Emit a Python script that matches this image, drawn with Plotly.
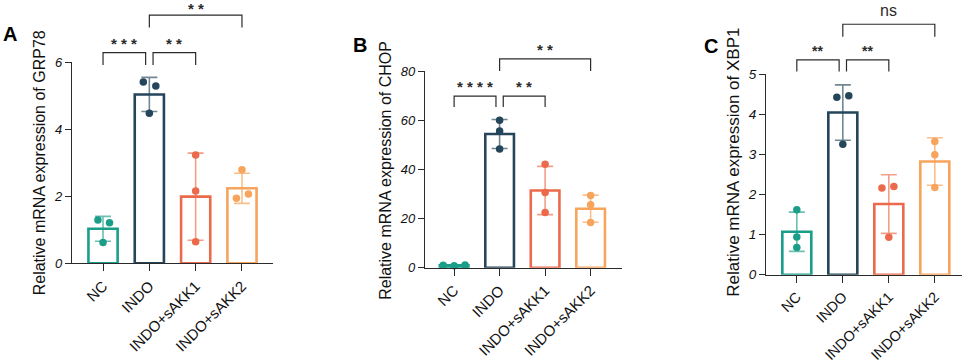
import plotly.graph_objects as go

# ---------------- data ----------------
CATEGORIES = ["NC", "INDO", "INDO+sAKK1", "INDO+sAKK2"]

A_MEAN = [1.03, 5.04, 1.99, 2.24]
A_SD = [0.37, 0.51, 1.30, 0.45]
A_POINTS = [[1.29, 1.21, 0.62], [5.41, 5.29, 4.48], [3.23, 2.16, 0.64], [2.79, 1.94, 2.07]]
A_SIG = ["* * *", "* *", "* *"]          # NC-INDO, INDO-sAKK1, INDO-sAKK2

B_MEAN = [1.0, 54.4, 31.4, 24.0]
B_SD = [0.2, 5.9, 9.8, 5.5]
B_POINTS = [[1.0, 0.8, 1.1], [60.0, 55.6, 48.3], [42.1, 30.6, 22.5], [29.4, 25.6, 18.4]]
B_SIG = ["* * * *", "* *", "* *"]

C_MEAN = [1.07, 4.04, 1.76, 2.82]
C_SD = [0.49, 0.69, 0.73, 0.59]
C_POINTS = [[1.62, 0.94, 0.68], [4.42, 4.46, 3.25], [2.16, 2.20, 0.93], [3.32, 2.99, 2.17]]
C_SIG = ["**", "**", "ns"]

Y_TICKS_A = [0, 2, 4, 6]
Y_TICKS_B = [0, 20, 40, 60, 80]
Y_TICKS_C = [0, 1, 2, 3, 4, 5]

TITLES = ["Relative mRNA expression of GRP78",
          "Relative mRNA expression of CHOP",
          "Relative mRNA expression of XBP1"]
LETTERS = ["A", "B", "C"]

# ---------------- style / layout ----------------
W, H = 969, 363
FONT = "Arial, Liberation Sans, sans-serif"
COLORS = ["#1b9e89", "#25465a", "#ec6a4c", "#f7a45c"]
ERR_COLORS = ["rgba(27,158,137,0.65)", "rgba(37,70,90,0.65)",
              "rgba(236,106,76,0.65)", "rgba(247,164,92,0.7)"]
INK = "#2b2b2b"

JITTER_A = [[-0.11, 0.14, 0.0], [-0.13, 0.14, 0.0], [0, 0, 0], [0.0, -0.12, 0.14]]
JITTER_B = [[-0.24, 0.0, 0.24], [0, 0, 0], [0, 0, 0], [0, 0, 0]]
JITTER_C = [[0, 0, 0], [-0.13, 0.13, 0.0], [-0.15, 0.11, 0.0], [0, 0, 0]]

PANELS = [
    dict(mean=A_MEAN, sd=A_SD, pts=A_POINTS, sig=A_SIG, jit=JITTER_A, ticks=Y_TICKS_A,
         x0=72, x1=273, ybot=263.3, ytop=62.3, xr=[-0.67, 3.67],
         low=(6.29, 5.92), high=(7.41, 7.04), sigfont=15, lastfont=15, topshift=-4,
         title_xy=(39, 163.3), tfs=16, letter_xy=(9.5, 34), tickfs=13, xtickfs=15),
    dict(mean=B_MEAN, sd=B_SD, pts=B_POINTS, sig=B_SIG, jit=JITTER_B, ticks=Y_TICKS_B,
         x0=425, x1=622, ybot=267.7, ytop=71.0, xr=[-0.64, 3.69],
         low=(69.8, 65.4), high=(84.9, 80.0), sigfont=15, lastfont=15, topshift=-1,
         title_xy=(386, 170.8), tfs=16, letter_xy=(360, 45.5), tickfs=13, xtickfs=15),
    dict(mean=C_MEAN, sd=C_SD, pts=C_POINTS, sig=C_SIG, jit=JITTER_C, ticks=Y_TICKS_C,
         x0=766, x1=961.5, ybot=274.7, ytop=74.0, xr=[-0.67, 3.58],
         low=(5.35, 5.06), high=(6.24, 5.93), sigfont=14, lastfont=16, topshift=3,
         title_xy=(733.5, 162.3), tfs=17, letter_xy=(711, 46), tickfs=13.5, xtickfs=14.5),
]

fig = go.Figure()
layout = dict(width=W, height=H, margin=dict(l=0, r=0, t=0, b=0, autoexpand=False),
              plot_bgcolor="rgba(0,0,0,0)", paper_bgcolor="white", showlegend=False,
              font=dict(family=FONT, color=INK))
shapes, annotations = [], []

for i, p in enumerate(PANELS):
    n = i + 1
    ov = i + 4
    xa, ya = f"x{'' if n == 1 else n}", f"y{'' if n == 1 else n}"
    xo, yo = f"x{ov}", f"y{ov}"
    ymax = p["ticks"][-1]
    xdom = [p["x0"] / W, p["x1"] / W]
    ydom = [1 - p["ybot"] / H, 1 - p["ytop"] / H]
    ov_top = ymax * p["ybot"] / (p["ybot"] - p["ytop"])

    # bars with error bars
    for k in range(4):
        fig.add_trace(go.Bar(
            x=[k], y=[p["mean"][k]], width=0.63, xaxis=xa, yaxis=ya,
            marker=dict(color="white", line=dict(color=COLORS[k], width=2.6)),
            error_y=dict(type="data", array=[p["sd"][k]], color=ERR_COLORS[k],
                         thickness=1.6, width=8),
            hoverinfo="skip"))
    # individual points
    for k in range(4):
        fig.add_trace(go.Scatter(
            x=[k + j for j in p["jit"][k]], y=p["pts"][k], mode="markers",
            xaxis=xa, yaxis=ya, cliponaxis=False,
            marker=dict(color=COLORS[k], size=7.5), hoverinfo="skip"))
    # dummy for overlay subplot
    fig.add_trace(go.Scatter(x=[], y=[], xaxis=xo, yaxis=yo, hoverinfo="skip"))

    layout[f"xaxis{'' if n == 1 else n}"] = dict(
        domain=xdom, anchor=ya, range=p["xr"], showgrid=False, zeroline=False,
        automargin=False, fixedrange=True,
        showline=True, linecolor=INK, linewidth=1.3, ticks="outside", ticklen=7,
        tickwidth=1.3, tickcolor=INK, tickvals=[0, 1, 2, 3], ticktext=CATEGORIES,
        tickangle=-45, tickfont=dict(size=p["xtickfs"], color="#111", family=FONT))
    layout[f"yaxis{'' if n == 1 else n}"] = dict(
        domain=ydom, anchor=xa, range=[0, ymax], showgrid=False, zeroline=False,
        automargin=False, fixedrange=True,
        showline=True, linecolor=INK, linewidth=1.3, ticks="outside", ticklen=6,
        tickwidth=1.3, tickcolor=INK, tickvals=p["ticks"],
        tickfont=dict(size=p["tickfs"], color="#111", family=FONT, style="italic"))
    layout[f"xaxis{ov}"] = dict(domain=xdom, anchor=yo, range=p["xr"], visible=False,
                                automargin=False, type="linear", fixedrange=True)
    layout[f"yaxis{ov}"] = dict(domain=[ydom[0], 1], anchor=xo, range=[0, ov_top],
                                automargin=False, visible=False, type="linear",
                                fixedrange=True)

    # significance brackets
    pairs = [(0, 0.92, p["low"], p["sig"][0], p["sigfont"], -1),
             (1.08, 2, p["low"], p["sig"][1], p["sigfont"], -1),
             (1, 3, p["high"], p["sig"][2], p["lastfont"], p["topshift"])]
    for a, b, (top, leg), lab, fs, ysh in pairs:
        shapes.append(dict(type="path", xref=xo, yref=yo,
                           path=f"M {a},{leg} L {a},{top} L {b},{top} L {b},{leg}",
                           line=dict(color=INK, width=1.2)))
        is_ns = lab == "ns"
        annotations.append(dict(x=(a + b) / 2, y=top, xref=xo, yref=yo,
                                text=lab if is_ns else f"<b>{lab}</b>",
                                showarrow=False, yanchor="bottom", yshift=ysh,
                                font=dict(size=fs, color=INK, family=FONT)))

    # axis title
    tx, ty = p["title_xy"]
    annotations.append(dict(x=tx / W, y=1 - ty / H, xref="paper", yref="paper",
                            text=TITLES[i], textangle=-90, showarrow=False,
                            xanchor="center", yanchor="middle",
                            font=dict(size=p["tfs"], color="#111", family=FONT)))
    # panel letter
    lx, ly = p["letter_xy"]
    annotations.append(dict(x=lx / W, y=1 - ly / H, xref="paper", yref="paper",
                            text=f"<b>{LETTERS[i]}</b>", showarrow=False,
                            xanchor="center", yanchor="middle",
                            font=dict(size=20, color="#000", family=FONT)))

layout["shapes"] = shapes
layout["annotations"] = annotations
fig.update_layout(**layout)
fig.write_html("out.html", config={"displayModeBar": False},
               post_script="document.body.style.margin='0px';document.body.style.overflow='hidden';")
